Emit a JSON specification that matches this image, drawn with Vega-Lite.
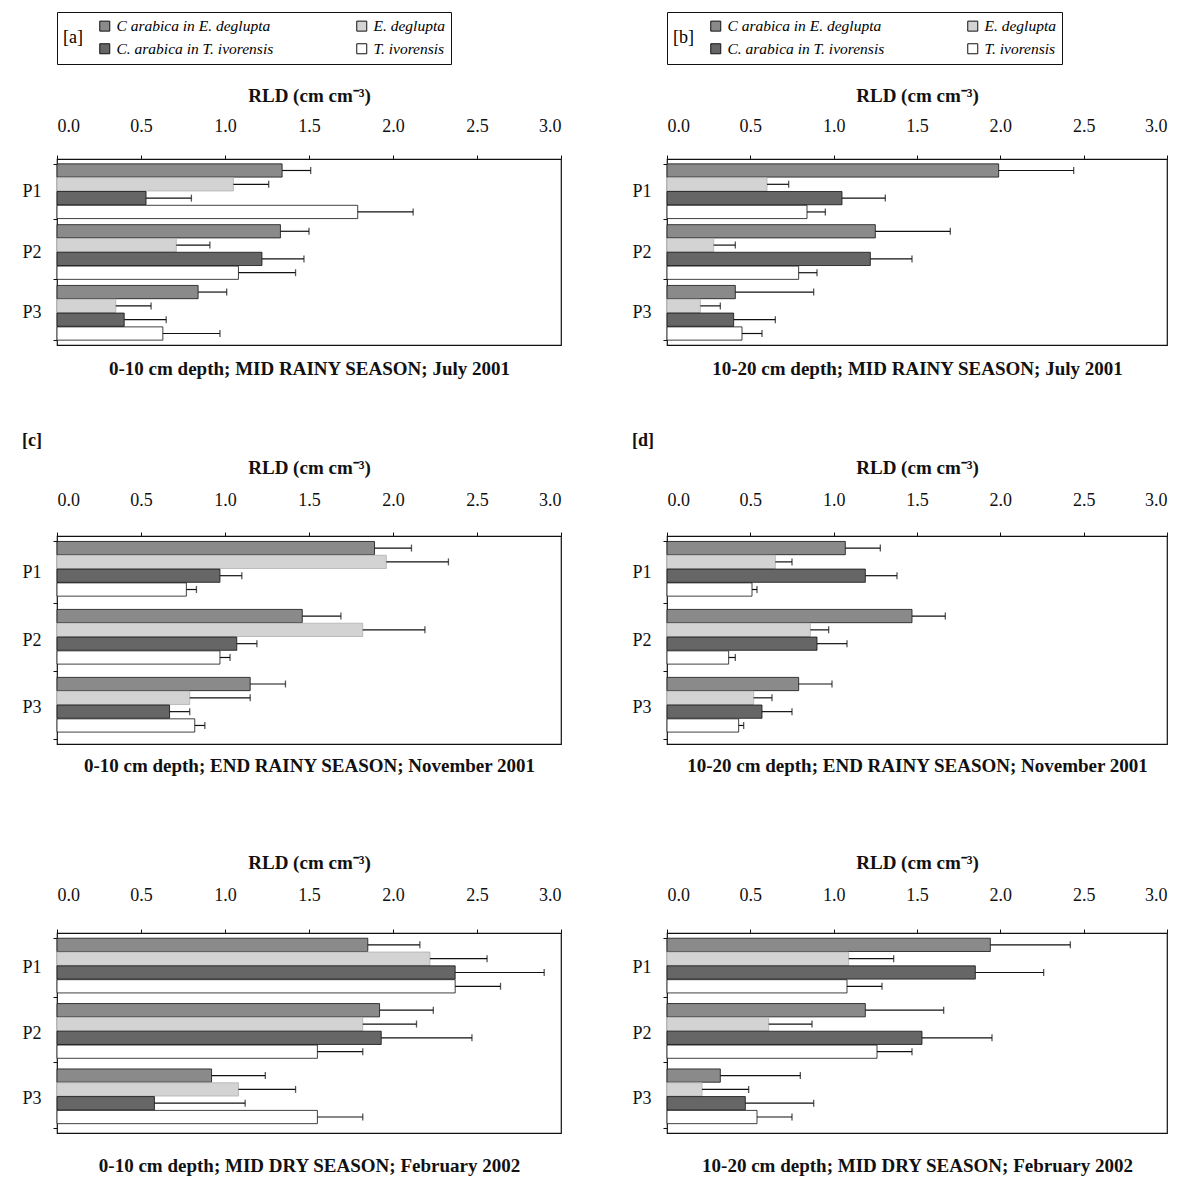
{
  "$schema": "https://vega.github.io/schema/vega-lite/v6.json",
  "background": "white",
  "padding": {"left": 21, "top": 10, "right": 4, "bottom": 4},
  "datasets": {
    "rld": [
      {"panel": "a", "plot": "P1", "species": "C arabica in E. deglupta", "rld": 1.34, "upper": 1.51},
      {"panel": "a", "plot": "P1", "species": "E. deglupta", "rld": 1.05, "upper": 1.26},
      {"panel": "a", "plot": "P1", "species": "C. arabica in T. ivorensis", "rld": 0.53, "upper": 0.80},
      {"panel": "a", "plot": "P1", "species": "T. ivorensis", "rld": 1.79, "upper": 2.12},
      {"panel": "a", "plot": "P2", "species": "C arabica in E. deglupta", "rld": 1.33, "upper": 1.50},
      {"panel": "a", "plot": "P2", "species": "E. deglupta", "rld": 0.71, "upper": 0.91},
      {"panel": "a", "plot": "P2", "species": "C. arabica in T. ivorensis", "rld": 1.22, "upper": 1.47},
      {"panel": "a", "plot": "P2", "species": "T. ivorensis", "rld": 1.08, "upper": 1.42},
      {"panel": "a", "plot": "P3", "species": "C arabica in E. deglupta", "rld": 0.84, "upper": 1.01},
      {"panel": "a", "plot": "P3", "species": "E. deglupta", "rld": 0.35, "upper": 0.56},
      {"panel": "a", "plot": "P3", "species": "C. arabica in T. ivorensis", "rld": 0.40, "upper": 0.65},
      {"panel": "a", "plot": "P3", "species": "T. ivorensis", "rld": 0.63, "upper": 0.97},
      {"panel": "b", "plot": "P1", "species": "C arabica in E. deglupta", "rld": 1.99, "upper": 2.44},
      {"panel": "b", "plot": "P1", "species": "E. deglupta", "rld": 0.60, "upper": 0.73},
      {"panel": "b", "plot": "P1", "species": "C. arabica in T. ivorensis", "rld": 1.05, "upper": 1.31},
      {"panel": "b", "plot": "P1", "species": "T. ivorensis", "rld": 0.84, "upper": 0.95},
      {"panel": "b", "plot": "P2", "species": "C arabica in E. deglupta", "rld": 1.25, "upper": 1.70},
      {"panel": "b", "plot": "P2", "species": "E. deglupta", "rld": 0.28, "upper": 0.41},
      {"panel": "b", "plot": "P2", "species": "C. arabica in T. ivorensis", "rld": 1.22, "upper": 1.47},
      {"panel": "b", "plot": "P2", "species": "T. ivorensis", "rld": 0.79, "upper": 0.90},
      {"panel": "b", "plot": "P3", "species": "C arabica in E. deglupta", "rld": 0.41, "upper": 0.88},
      {"panel": "b", "plot": "P3", "species": "E. deglupta", "rld": 0.20, "upper": 0.32},
      {"panel": "b", "plot": "P3", "species": "C. arabica in T. ivorensis", "rld": 0.40, "upper": 0.65},
      {"panel": "b", "plot": "P3", "species": "T. ivorensis", "rld": 0.45, "upper": 0.57},
      {"panel": "c", "plot": "P1", "species": "C arabica in E. deglupta", "rld": 1.89, "upper": 2.11},
      {"panel": "c", "plot": "P1", "species": "E. deglupta", "rld": 1.96, "upper": 2.33},
      {"panel": "c", "plot": "P1", "species": "C. arabica in T. ivorensis", "rld": 0.97, "upper": 1.10},
      {"panel": "c", "plot": "P1", "species": "T. ivorensis", "rld": 0.77, "upper": 0.83},
      {"panel": "c", "plot": "P2", "species": "C arabica in E. deglupta", "rld": 1.46, "upper": 1.69},
      {"panel": "c", "plot": "P2", "species": "E. deglupta", "rld": 1.82, "upper": 2.19},
      {"panel": "c", "plot": "P2", "species": "C. arabica in T. ivorensis", "rld": 1.07, "upper": 1.19},
      {"panel": "c", "plot": "P2", "species": "T. ivorensis", "rld": 0.97, "upper": 1.03},
      {"panel": "c", "plot": "P3", "species": "C arabica in E. deglupta", "rld": 1.15, "upper": 1.36},
      {"panel": "c", "plot": "P3", "species": "E. deglupta", "rld": 0.79, "upper": 1.15},
      {"panel": "c", "plot": "P3", "species": "C. arabica in T. ivorensis", "rld": 0.67, "upper": 0.79},
      {"panel": "c", "plot": "P3", "species": "T. ivorensis", "rld": 0.82, "upper": 0.88},
      {"panel": "d", "plot": "P1", "species": "C arabica in E. deglupta", "rld": 1.07, "upper": 1.28},
      {"panel": "d", "plot": "P1", "species": "E. deglupta", "rld": 0.65, "upper": 0.75},
      {"panel": "d", "plot": "P1", "species": "C. arabica in T. ivorensis", "rld": 1.19, "upper": 1.38},
      {"panel": "d", "plot": "P1", "species": "T. ivorensis", "rld": 0.51, "upper": 0.54},
      {"panel": "d", "plot": "P2", "species": "C arabica in E. deglupta", "rld": 1.47, "upper": 1.67},
      {"panel": "d", "plot": "P2", "species": "E. deglupta", "rld": 0.86, "upper": 0.97},
      {"panel": "d", "plot": "P2", "species": "C. arabica in T. ivorensis", "rld": 0.90, "upper": 1.08},
      {"panel": "d", "plot": "P2", "species": "T. ivorensis", "rld": 0.37, "upper": 0.41},
      {"panel": "d", "plot": "P3", "species": "C arabica in E. deglupta", "rld": 0.79, "upper": 0.99},
      {"panel": "d", "plot": "P3", "species": "E. deglupta", "rld": 0.52, "upper": 0.63},
      {"panel": "d", "plot": "P3", "species": "C. arabica in T. ivorensis", "rld": 0.57, "upper": 0.75},
      {"panel": "d", "plot": "P3", "species": "T. ivorensis", "rld": 0.43, "upper": 0.46},
      {"panel": "e", "plot": "P1", "species": "C arabica in E. deglupta", "rld": 1.85, "upper": 2.16},
      {"panel": "e", "plot": "P1", "species": "E. deglupta", "rld": 2.22, "upper": 2.56},
      {"panel": "e", "plot": "P1", "species": "C. arabica in T. ivorensis", "rld": 2.37, "upper": 2.90},
      {"panel": "e", "plot": "P1", "species": "T. ivorensis", "rld": 2.37, "upper": 2.64},
      {"panel": "e", "plot": "P2", "species": "C arabica in E. deglupta", "rld": 1.92, "upper": 2.24},
      {"panel": "e", "plot": "P2", "species": "E. deglupta", "rld": 1.82, "upper": 2.14},
      {"panel": "e", "plot": "P2", "species": "C. arabica in T. ivorensis", "rld": 1.93, "upper": 2.47},
      {"panel": "e", "plot": "P2", "species": "T. ivorensis", "rld": 1.55, "upper": 1.82},
      {"panel": "e", "plot": "P3", "species": "C arabica in E. deglupta", "rld": 0.92, "upper": 1.24},
      {"panel": "e", "plot": "P3", "species": "E. deglupta", "rld": 1.08, "upper": 1.42},
      {"panel": "e", "plot": "P3", "species": "C. arabica in T. ivorensis", "rld": 0.58, "upper": 1.12},
      {"panel": "e", "plot": "P3", "species": "T. ivorensis", "rld": 1.55, "upper": 1.82},
      {"panel": "f", "plot": "P1", "species": "C arabica in E. deglupta", "rld": 1.94, "upper": 2.42},
      {"panel": "f", "plot": "P1", "species": "E. deglupta", "rld": 1.09, "upper": 1.36},
      {"panel": "f", "plot": "P1", "species": "C. arabica in T. ivorensis", "rld": 1.85, "upper": 2.26},
      {"panel": "f", "plot": "P1", "species": "T. ivorensis", "rld": 1.08, "upper": 1.29},
      {"panel": "f", "plot": "P2", "species": "C arabica in E. deglupta", "rld": 1.19, "upper": 1.66},
      {"panel": "f", "plot": "P2", "species": "E. deglupta", "rld": 0.61, "upper": 0.87},
      {"panel": "f", "plot": "P2", "species": "C. arabica in T. ivorensis", "rld": 1.53, "upper": 1.95},
      {"panel": "f", "plot": "P2", "species": "T. ivorensis", "rld": 1.26, "upper": 1.47},
      {"panel": "f", "plot": "P3", "species": "C arabica in E. deglupta", "rld": 0.32, "upper": 0.80},
      {"panel": "f", "plot": "P3", "species": "E. deglupta", "rld": 0.21, "upper": 0.49},
      {"panel": "f", "plot": "P3", "species": "C. arabica in T. ivorensis", "rld": 0.47, "upper": 0.88},
      {"panel": "f", "plot": "P3", "species": "T. ivorensis", "rld": 0.54, "upper": 0.75}
    ]
  },
  "data": {"name": "rld"},
  "columns": 2,
  "spacing": {"row": 52, "column": 68},
  "resolve": {"scale": {"fill": "independent"}, "legend": {"fill": "independent"}},
  "concat": [
    {
      "width": 504, "height": 186,
      "transform": [{"filter": "datum.panel == 'a'"}],
      "layer": [
        {"mark": {"type": "bar", "strokeWidth": 0.8},
         "encoding": {
           "y": {"field": "plot", "type": "nominal", "scale": {"paddingInner": 0.1, "paddingOuter": 0.08}, "axis": {"title": null, "domain": false, "tickBand": "extent", "tickSize": 4, "labelPadding": 12}},
           "yOffset": {"field": "species", "type": "nominal", "scale": {"domain": ["C arabica in E. deglupta", "E. deglupta", "C. arabica in T. ivorensis", "T. ivorensis"], "paddingInner": 0.04}},
           "x": {"field": "rld", "type": "quantitative", "scale": {"domain": [0, 3], "nice": false}, "axis": {"orient": "top", "title": "RLD (cm cm⁻³)", "values": [0, 0.5, 1, 1.5, 2, 2.5, 3], "format": ".1f", "domain": false, "tickSize": 4, "labelPadding": 20, "titlePadding": 12}},
           "fill": {"field": "species", "type": "nominal", "scale": {"domain": ["C arabica in E. deglupta", "E. deglupta", "C. arabica in T. ivorensis", "T. ivorensis"], "range": ["#8a8a8a", "#d3d3d3", "#666666", "#ffffff"]},
             "legend": {"orient": "top", "columns": 2, "gridAlign": "all", "title": "[a]", "titleOrient": "left", "titleFontSize": 18, "titleFontWeight": "normal", "titleFont": "Liberation Serif", "titlePadding": 14, "labelFont": "Liberation Serif", "labelFontStyle": "italic", "labelFontSize": 15.5, "symbolType": "square", "symbolSize": 100, "symbolStrokeColor": "#111", "symbolStrokeWidth": 1, "strokeColor": "#111", "padding": 6, "columnPadding": 80, "rowPadding": 6, "offset": 22}},
           "stroke": {"field": "species", "type": "nominal", "scale": {"domain": ["C arabica in E. deglupta", "E. deglupta", "C. arabica in T. ivorensis", "T. ivorensis"], "range": ["#111111", "#b0b0b0", "#111111", "#111111"]}, "legend": null}
         }},
        {"mark": {"type": "rule", "color": "#111", "strokeWidth": 1.2},
         "encoding": {
           "y": {"field": "plot", "type": "nominal"},
           "yOffset": {"field": "species", "type": "nominal"},
           "x": {"field": "rld", "type": "quantitative", "axis": {"orient": "bottom", "labels": false, "ticks": false, "domain": false, "title": "0-10 cm depth; MID RAINY SEASON; July 2001", "titleFontWeight": "bold", "titlePadding": 14}},
           "x2": {"field": "upper"}
         }},
        {"mark": {"type": "tick", "color": "#111", "thickness": 1.3, "size": 7},
         "encoding": {
           "y": {"field": "plot", "type": "nominal"},
           "yOffset": {"field": "species", "type": "nominal"},
           "x": {"field": "upper", "type": "quantitative", "axis": null}
         }}
      ],
      "resolve": {"axis": {"x": "independent"}}
    },
    {
      "width": 500, "height": 186,
      "transform": [{"filter": "datum.panel == 'b'"}],
      "layer": [
        {"mark": {"type": "bar", "strokeWidth": 0.8},
         "encoding": {
           "y": {"field": "plot", "type": "nominal", "scale": {"paddingInner": 0.1, "paddingOuter": 0.08}, "axis": {"title": null, "domain": false, "tickBand": "extent", "tickSize": 4, "labelPadding": 12}},
           "yOffset": {"field": "species", "type": "nominal", "scale": {"domain": ["C arabica in E. deglupta", "E. deglupta", "C. arabica in T. ivorensis", "T. ivorensis"], "paddingInner": 0.04}},
           "x": {"field": "rld", "type": "quantitative", "scale": {"domain": [0, 3], "nice": false}, "axis": {"orient": "top", "title": "RLD (cm cm⁻³)", "values": [0, 0.5, 1, 1.5, 2, 2.5, 3], "format": ".1f", "domain": false, "tickSize": 4, "labelPadding": 20, "titlePadding": 12}},
           "fill": {"field": "species", "type": "nominal", "scale": {"domain": ["C arabica in E. deglupta", "E. deglupta", "C. arabica in T. ivorensis", "T. ivorensis"], "range": ["#8a8a8a", "#d3d3d3", "#666666", "#ffffff"]},
             "legend": {"orient": "top", "columns": 2, "gridAlign": "all", "title": "[b]", "titleOrient": "left", "titleFontSize": 18, "titleFontWeight": "normal", "titleFont": "Liberation Serif", "titlePadding": 14, "labelFont": "Liberation Serif", "labelFontStyle": "italic", "labelFontSize": 15.5, "symbolType": "square", "symbolSize": 100, "symbolStrokeColor": "#111", "symbolStrokeWidth": 1, "strokeColor": "#111", "padding": 6, "columnPadding": 80, "rowPadding": 6, "offset": 22}},
           "stroke": {"field": "species", "type": "nominal", "scale": {"domain": ["C arabica in E. deglupta", "E. deglupta", "C. arabica in T. ivorensis", "T. ivorensis"], "range": ["#111111", "#b0b0b0", "#111111", "#111111"]}, "legend": null}
         }},
        {"mark": {"type": "rule", "color": "#111", "strokeWidth": 1.2},
         "encoding": {
           "y": {"field": "plot", "type": "nominal"},
           "yOffset": {"field": "species", "type": "nominal"},
           "x": {"field": "rld", "type": "quantitative", "axis": {"orient": "bottom", "labels": false, "ticks": false, "domain": false, "title": "10-20 cm depth; MID RAINY SEASON; July 2001", "titleFontWeight": "bold", "titlePadding": 14}},
           "x2": {"field": "upper"}
         }},
        {"mark": {"type": "tick", "color": "#111", "thickness": 1.3, "size": 7},
         "encoding": {
           "y": {"field": "plot", "type": "nominal"},
           "yOffset": {"field": "species", "type": "nominal"},
           "x": {"field": "upper", "type": "quantitative", "axis": null}
         }}
      ],
      "resolve": {"axis": {"x": "independent"}}
    },
    {
      "width": 504, "height": 208,
      "title": {"text": "[c]", "anchor": "start", "fontSize": 18, "fontWeight": "bold", "font": "Liberation Serif", "offset": 8},
      "transform": [{"filter": "datum.panel == 'c'"}],
      "layer": [
        {"mark": {"type": "bar", "strokeWidth": 0.8},
         "encoding": {
           "y": {"field": "plot", "type": "nominal", "scale": {"paddingInner": 0.1, "paddingOuter": 0.08}, "axis": {"title": null, "domain": false, "tickBand": "extent", "tickSize": 4, "labelPadding": 12}},
           "yOffset": {"field": "species", "type": "nominal", "scale": {"domain": ["C arabica in E. deglupta", "E. deglupta", "C. arabica in T. ivorensis", "T. ivorensis"], "paddingInner": 0.04}},
           "x": {"field": "rld", "type": "quantitative", "scale": {"domain": [0, 3], "nice": false}, "axis": {"orient": "top", "title": "RLD (cm cm⁻³)", "values": [0, 0.5, 1, 1.5, 2, 2.5, 3], "format": ".1f", "domain": false, "tickSize": 4, "labelPadding": 23, "titlePadding": 14}},
           "fill": {"field": "species", "type": "nominal", "scale": {"domain": ["C arabica in E. deglupta", "E. deglupta", "C. arabica in T. ivorensis", "T. ivorensis"], "range": ["#8a8a8a", "#d3d3d3", "#666666", "#ffffff"]}, "legend": null},
           "stroke": {"field": "species", "type": "nominal", "scale": {"domain": ["C arabica in E. deglupta", "E. deglupta", "C. arabica in T. ivorensis", "T. ivorensis"], "range": ["#111111", "#b0b0b0", "#111111", "#111111"]}, "legend": null}
         }},
        {"mark": {"type": "rule", "color": "#111", "strokeWidth": 1.2},
         "encoding": {
           "y": {"field": "plot", "type": "nominal"},
           "yOffset": {"field": "species", "type": "nominal"},
           "x": {"field": "rld", "type": "quantitative", "axis": {"orient": "bottom", "labels": false, "ticks": false, "domain": false, "title": "0-10 cm depth; END RAINY SEASON; November 2001", "titleFontWeight": "bold", "titlePadding": 12}},
           "x2": {"field": "upper"}
         }},
        {"mark": {"type": "tick", "color": "#111", "thickness": 1.3, "size": 7},
         "encoding": {
           "y": {"field": "plot", "type": "nominal"},
           "yOffset": {"field": "species", "type": "nominal"},
           "x": {"field": "upper", "type": "quantitative", "axis": null}
         }}
      ],
      "resolve": {"axis": {"x": "independent"}}
    },
    {
      "width": 500, "height": 208,
      "title": {"text": "[d]", "anchor": "start", "fontSize": 18, "fontWeight": "bold", "font": "Liberation Serif", "offset": 8},
      "transform": [{"filter": "datum.panel == 'd'"}],
      "layer": [
        {"mark": {"type": "bar", "strokeWidth": 0.8},
         "encoding": {
           "y": {"field": "plot", "type": "nominal", "scale": {"paddingInner": 0.1, "paddingOuter": 0.08}, "axis": {"title": null, "domain": false, "tickBand": "extent", "tickSize": 4, "labelPadding": 12}},
           "yOffset": {"field": "species", "type": "nominal", "scale": {"domain": ["C arabica in E. deglupta", "E. deglupta", "C. arabica in T. ivorensis", "T. ivorensis"], "paddingInner": 0.04}},
           "x": {"field": "rld", "type": "quantitative", "scale": {"domain": [0, 3], "nice": false}, "axis": {"orient": "top", "title": "RLD (cm cm⁻³)", "values": [0, 0.5, 1, 1.5, 2, 2.5, 3], "format": ".1f", "domain": false, "tickSize": 4, "labelPadding": 23, "titlePadding": 14}},
           "fill": {"field": "species", "type": "nominal", "scale": {"domain": ["C arabica in E. deglupta", "E. deglupta", "C. arabica in T. ivorensis", "T. ivorensis"], "range": ["#8a8a8a", "#d3d3d3", "#666666", "#ffffff"]}, "legend": null},
           "stroke": {"field": "species", "type": "nominal", "scale": {"domain": ["C arabica in E. deglupta", "E. deglupta", "C. arabica in T. ivorensis", "T. ivorensis"], "range": ["#111111", "#b0b0b0", "#111111", "#111111"]}, "legend": null}
         }},
        {"mark": {"type": "rule", "color": "#111", "strokeWidth": 1.2},
         "encoding": {
           "y": {"field": "plot", "type": "nominal"},
           "yOffset": {"field": "species", "type": "nominal"},
           "x": {"field": "rld", "type": "quantitative", "axis": {"orient": "bottom", "labels": false, "ticks": false, "domain": false, "title": "10-20 cm depth; END RAINY SEASON; November 2001", "titleFontWeight": "bold", "titlePadding": 12}},
           "x2": {"field": "upper"}
         }},
        {"mark": {"type": "tick", "color": "#111", "thickness": 1.3, "size": 7},
         "encoding": {
           "y": {"field": "plot", "type": "nominal"},
           "yOffset": {"field": "species", "type": "nominal"},
           "x": {"field": "upper", "type": "quantitative", "axis": null}
         }}
      ],
      "resolve": {"axis": {"x": "independent"}}
    },
    {
      "width": 504, "height": 200,
      "title": {"text": " ", "anchor": "start", "fontSize": 18, "fontWeight": "bold", "font": "Liberation Serif", "offset": 6},
      "transform": [{"filter": "datum.panel == 'e'"}],
      "layer": [
        {"mark": {"type": "bar", "strokeWidth": 0.8},
         "encoding": {
           "y": {"field": "plot", "type": "nominal", "scale": {"paddingInner": 0.1, "paddingOuter": 0.08}, "axis": {"title": null, "domain": false, "tickBand": "extent", "tickSize": 4, "labelPadding": 12}},
           "yOffset": {"field": "species", "type": "nominal", "scale": {"domain": ["C arabica in E. deglupta", "E. deglupta", "C. arabica in T. ivorensis", "T. ivorensis"], "paddingInner": 0.04}},
           "x": {"field": "rld", "type": "quantitative", "scale": {"domain": [0, 3], "nice": false}, "axis": {"orient": "top", "title": "RLD (cm cm⁻³)", "values": [0, 0.5, 1, 1.5, 2, 2.5, 3], "format": ".1f", "domain": false, "tickSize": 4, "labelPadding": 25, "titlePadding": 14}},
           "fill": {"field": "species", "type": "nominal", "scale": {"domain": ["C arabica in E. deglupta", "E. deglupta", "C. arabica in T. ivorensis", "T. ivorensis"], "range": ["#8a8a8a", "#d3d3d3", "#666666", "#ffffff"]}, "legend": null},
           "stroke": {"field": "species", "type": "nominal", "scale": {"domain": ["C arabica in E. deglupta", "E. deglupta", "C. arabica in T. ivorensis", "T. ivorensis"], "range": ["#111111", "#b0b0b0", "#111111", "#111111"]}, "legend": null}
         }},
        {"mark": {"type": "rule", "color": "#111", "strokeWidth": 1.2},
         "encoding": {
           "y": {"field": "plot", "type": "nominal"},
           "yOffset": {"field": "species", "type": "nominal"},
           "x": {"field": "rld", "type": "quantitative", "axis": {"orient": "bottom", "labels": false, "ticks": false, "domain": false, "title": "0-10 cm depth; MID DRY SEASON; February 2002", "titleFontWeight": "bold", "titlePadding": 23}},
           "x2": {"field": "upper"}
         }},
        {"mark": {"type": "tick", "color": "#111", "thickness": 1.3, "size": 7},
         "encoding": {
           "y": {"field": "plot", "type": "nominal"},
           "yOffset": {"field": "species", "type": "nominal"},
           "x": {"field": "upper", "type": "quantitative", "axis": null}
         }}
      ],
      "resolve": {"axis": {"x": "independent"}}
    },
    {
      "width": 500, "height": 200,
      "title": {"text": " ", "anchor": "start", "fontSize": 18, "fontWeight": "bold", "font": "Liberation Serif", "offset": 6},
      "transform": [{"filter": "datum.panel == 'f'"}],
      "layer": [
        {"mark": {"type": "bar", "strokeWidth": 0.8},
         "encoding": {
           "y": {"field": "plot", "type": "nominal", "scale": {"paddingInner": 0.1, "paddingOuter": 0.08}, "axis": {"title": null, "domain": false, "tickBand": "extent", "tickSize": 4, "labelPadding": 12}},
           "yOffset": {"field": "species", "type": "nominal", "scale": {"domain": ["C arabica in E. deglupta", "E. deglupta", "C. arabica in T. ivorensis", "T. ivorensis"], "paddingInner": 0.04}},
           "x": {"field": "rld", "type": "quantitative", "scale": {"domain": [0, 3], "nice": false}, "axis": {"orient": "top", "title": "RLD (cm cm⁻³)", "values": [0, 0.5, 1, 1.5, 2, 2.5, 3], "format": ".1f", "domain": false, "tickSize": 4, "labelPadding": 25, "titlePadding": 14}},
           "fill": {"field": "species", "type": "nominal", "scale": {"domain": ["C arabica in E. deglupta", "E. deglupta", "C. arabica in T. ivorensis", "T. ivorensis"], "range": ["#8a8a8a", "#d3d3d3", "#666666", "#ffffff"]}, "legend": null},
           "stroke": {"field": "species", "type": "nominal", "scale": {"domain": ["C arabica in E. deglupta", "E. deglupta", "C. arabica in T. ivorensis", "T. ivorensis"], "range": ["#111111", "#b0b0b0", "#111111", "#111111"]}, "legend": null}
         }},
        {"mark": {"type": "rule", "color": "#111", "strokeWidth": 1.2},
         "encoding": {
           "y": {"field": "plot", "type": "nominal"},
           "yOffset": {"field": "species", "type": "nominal"},
           "x": {"field": "rld", "type": "quantitative", "axis": {"orient": "bottom", "labels": false, "ticks": false, "domain": false, "title": "10-20 cm depth; MID DRY SEASON; February 2002", "titleFontWeight": "bold", "titlePadding": 23}},
           "x2": {"field": "upper"}
         }},
        {"mark": {"type": "tick", "color": "#111", "thickness": 1.3, "size": 7},
         "encoding": {
           "y": {"field": "plot", "type": "nominal"},
           "yOffset": {"field": "species", "type": "nominal"},
           "x": {"field": "upper", "type": "quantitative", "axis": null}
         }}
      ],
      "resolve": {"axis": {"x": "independent"}}
    }
  ],
  "config": {
    "font": "Liberation Serif",
    "view": {"stroke": "#111", "strokeWidth": 1.2},
    "axis": {"labelFont": "Liberation Serif", "labelFontSize": 18, "labelColor": "#111", "titleFont": "Liberation Serif", "titleFontSize": 19, "titleColor": "#111", "titleFontWeight": "bold", "tickColor": "#111", "grid": false},
    "title": {"color": "#111"}
  }
}
